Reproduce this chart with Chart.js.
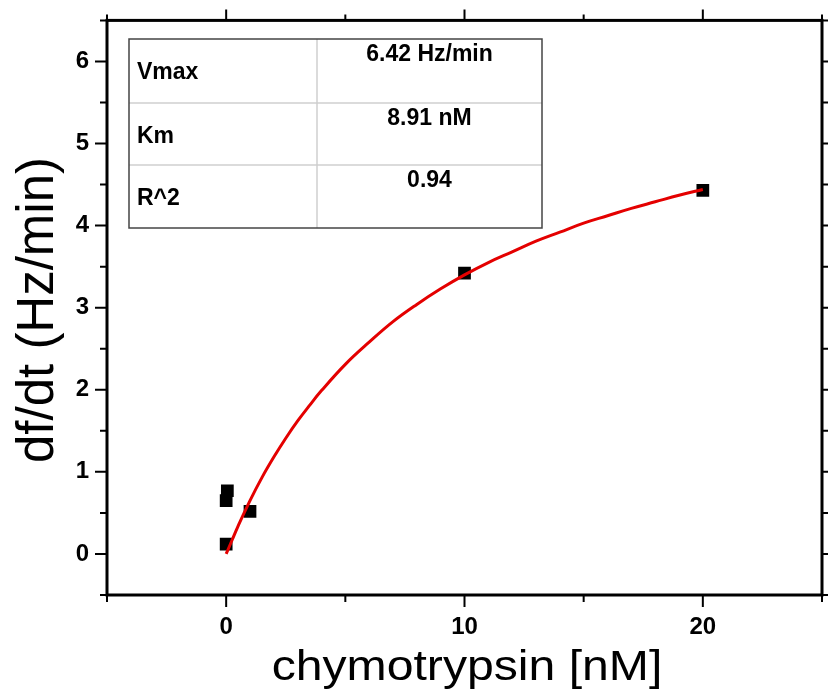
<!DOCTYPE html>
<html>
<head>
<meta charset="utf-8">
<script src="https://cdn.jsdelivr.net/npm/chart.js@4.4.0/dist/chart.umd.min.js"></script>
<style>
  html, body { margin: 0; padding: 0; background: #fff; overflow: hidden; }
  #wrap { width: 828px; height: 698px; overflow: hidden; }
</style>
</head>
<body>
<div id="wrap"><canvas id="mmChart" width="831" height="698"></canvas></div>
<script>
// measured rates
const concX = [0, 0, 0.05, 1, 10, 20];
const rateY = [0.12, 0.65, 0.77, 0.52, 3.42, 4.43];

// red fit curve
const fitX = [0, 0.25, 0.5, 1, 1.5, 2, 2.5, 3, 3.5, 4, 5, 6, 7, 8, 9, 10, 11, 12, 13, 14, 15, 16, 17, 18, 19, 20];
const fitY = [0, 0.17, 0.34, 0.65, 0.93, 1.18, 1.41, 1.62, 1.81, 1.99, 2.31, 2.58, 2.83, 3.04, 3.23, 3.40, 3.55, 3.68, 3.81, 3.92, 4.03, 4.12, 4.21, 4.29, 4.37, 4.44];

const xMajorTicks = [0, 10, 20];
const yMajorTicks = [0, 1, 2, 3, 4, 5, 6];

const paramNames = ["Vmax", "Km", "R^2"];
const paramValues = ["6.42 Hz/min", "8.91 nM", "0.94"];

const xTitle = "chymotrypsin [nM]";
const yTitle = "df/dt (Hz/min)";

const FONT = "'Liberation Sans', Arial, sans-serif";

const isMajorX = (v) => xMajorTicks.some((m) => Math.abs(m - v) < 1e-9);
const isMajorY = (v) => yMajorTicks.some((m) => Math.abs(m - v) < 1e-9);

// frame on all four sides + outward tick marks
const frameAndTicks = {
  id: "frameAndTicks",
  afterDraw(chart) {
    const { ctx, chartArea: a, scales } = chart;
    ctx.save();
    ctx.strokeStyle = "#000";
    ctx.lineWidth = 2;
    ctx.beginPath();
    scales.x.ticks.forEach((t) => {
      const px = scales.x.getPixelForValue(t.value);
      const major = isMajorX(t.value);
      ctx.moveTo(px, a.bottom);
      ctx.lineTo(px, a.bottom + (major ? 12 : 7));
      ctx.moveTo(px, a.top);
      ctx.lineTo(px, a.top - (major ? 11 : 6));
    });
    scales.y.ticks.forEach((t) => {
      const py = scales.y.getPixelForValue(t.value);
      const major = isMajorY(t.value);
      ctx.moveTo(a.left, py);
      ctx.lineTo(a.left - (major ? 12 : 7), py);
      ctx.moveTo(a.right, py);
      ctx.lineTo(a.right + (major ? 12 : 7), py);
    });
    ctx.stroke();

    ctx.lineWidth = 3;
    ctx.strokeRect(a.left, a.top, a.right - a.left, a.bottom - a.top);

    // axis titles
    ctx.fillStyle = "#000";
    ctx.textAlign = "center";
    ctx.textBaseline = "alphabetic";
    ctx.save();
    ctx.translate(467, 680);
    ctx.scale(1.12, 1);
    ctx.font = "43px " + FONT;
    ctx.fillText(xTitle, 0, 0);
    ctx.restore();

    ctx.save();
    ctx.translate(53, 310);
    ctx.rotate(-Math.PI / 2);
    ctx.font = "51px " + FONT;
    ctx.fillText(yTitle, 0, 0);
    ctx.restore();
    ctx.restore();
  },
};

// fit parameter table in the upper left
const paramTable = {
  id: "paramTable",
  afterDatasetsDraw(chart) {
    const { ctx } = chart;
    const left = 129;
    const top = 39;
    const right = 542;
    const colX = 317;
    const rowTops = [39, 103, 165, 228];
    ctx.save();
    ctx.fillStyle = "#fff";
    ctx.fillRect(left, top, right - left, rowTops[3] - top);

    ctx.strokeStyle = "#cfcfcf";
    ctx.lineWidth = 1.5;
    ctx.beginPath();
    ctx.moveTo(colX, top);
    ctx.lineTo(colX, rowTops[3]);
    ctx.moveTo(left, rowTops[1]);
    ctx.lineTo(right, rowTops[1]);
    ctx.moveTo(left, rowTops[2]);
    ctx.lineTo(right, rowTops[2]);
    ctx.stroke();

    ctx.strokeStyle = "#444";
    ctx.lineWidth = 1.5;
    ctx.strokeRect(left, top, right - left, rowTops[3] - top);

    ctx.fillStyle = "#000";
    ctx.font = "bold 23px " + FONT;
    ctx.textBaseline = "middle";
    paramNames.forEach((name, i) => {
      ctx.textAlign = "left";
      ctx.fillText(name, left + 8, rowTops[i] + 34);
      ctx.textAlign = "center";
      ctx.fillText(paramValues[i], (colX + right) / 2, rowTops[i] + 16);
    });
    ctx.restore();
  },
};

const ctx = document.getElementById("mmChart");

new Chart(ctx, {
  type: "scatter",
  data: {
    datasets: [
      {
        label: "fit",
        data: fitX.map((x, i) => ({ x: x, y: fitY[i] })),
        showLine: true,
        borderColor: "#e40000",
        borderWidth: 3,
        pointRadius: 0,
        tension: 0.4,
        fill: false,
      },
      {
        label: "data",
        data: concX.map((x, i) => ({ x: x, y: rateY[i] })),
        pointStyle: "rect",
        pointRadius: 9,
        backgroundColor: "#000",
        borderColor: "#000",
        borderWidth: 0,
      },
    ],
  },
  options: {
    responsive: false,
    animation: false,
    layout: { padding: { top: 16, right: 2, left: 0, bottom: 0 } },
    plugins: {
      legend: { display: false },
      tooltip: { enabled: false },
      title: { display: false },
    },
    scales: {
      x: {
        type: "linear",
        position: "bottom",
        min: -5,
        max: 25,
        border: { display: false },
        grid: {
          drawOnChartArea: false,
          drawTicks: true,
          tickLength: 18,
          tickColor: "transparent",
        },
        ticks: {
          stepSize: 5,
          autoSkip: false,
          maxRotation: 0,
          padding: 0,
          color: "#000",
          font: { family: FONT, size: 24, weight: "bold" },
          callback: (v) => (isMajorX(v) ? String(Math.round(v)) : ""),
        },
        afterFit: (s) => {
          s.height = 103;
        },
      },
      y: {
        type: "linear",
        min: -0.5,
        max: 6.5,
        border: { display: false },
        grid: {
          drawOnChartArea: false,
          drawTicks: true,
          tickLength: 12,
          tickColor: "transparent",
        },
        ticks: {
          stepSize: 0.5,
          autoSkip: false,
          padding: 6,
          color: "#000",
          font: { family: FONT, size: 24, weight: "bold" },
          callback: (v) => (isMajorY(v) ? String(Math.round(v)) : ""),
        },
        afterFit: (s) => {
          s.width = 107;
        },
      },
    },
  },
  plugins: [paramTable, frameAndTicks],
});
</script>
</body>
</html>
